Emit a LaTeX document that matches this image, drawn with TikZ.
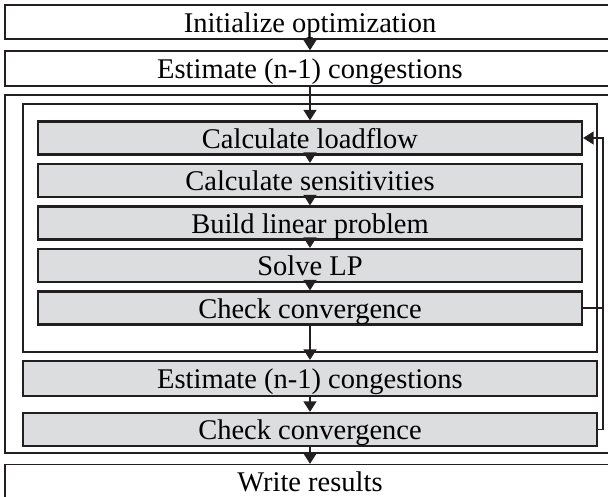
\documentclass[tikz,border=0pt]{standalone}
\usepackage{fontspec}
\setmainfont{Liberation Serif}
\usetikzlibrary{arrows.meta}
\definecolor{ink}{HTML}{231F20}
\definecolor{boxgray}{HTML}{DCDDDE}
\tikzset{
  steptext/.style={font=\fontsize{28.5}{30}\selectfont, text height=20pt, text depth=0pt},
  plainbox/.style={draw=ink, line width=1.4pt, fill=white, inner sep=0pt,
    minimum width=610pt, minimum height=34pt, steptext},
  frame/.style={draw=ink, line width=1.4pt, inner sep=0pt},
  graybox/.style={draw=ink, line width=2.2pt, fill=boxgray, inner sep=0pt,
    minimum height=33pt, steptext},
  flow/.style={draw=ink, line width=1.3pt, -{Triangle[length=10.5pt,width=13pt]}},
  link/.style={draw=ink, line width=1.3pt}
}
\begin{document}
\begin{tikzpicture}[x=1pt,y=-1pt]
\useasboundingbox (0,0) rectangle (608,496);
\clip (0,0) rectangle (608,496);
% outer and inner frames
\node[frame, minimum width=610pt, minimum height=358pt] (outer) at (310,274) {};
\node[frame, minimum width=574pt, minimum height=248pt] (inner) at (310,228) {};
% top and bottom steps
\node[plainbox] (init) at (310,22) {Initialize optimization};
\node[plainbox, minimum height=35pt] (est0) at (310,68.5) {Estimate (n-1) congestions};
\node[plainbox] (write) at (310,481.5) {Write results};
% inner loop
\node[graybox, minimum width=544pt] (load) at (310,138) {Calculate loadflow};
\node[graybox, minimum width=544pt] (sens) at (310,180.5) {Calculate sensitivities};
\node[graybox, minimum width=544pt] (build) at (310,223) {Build linear problem};
\node[graybox, minimum width=544pt] (lp) at (310,265.5) {Solve LP};
\node[graybox, minimum width=544pt] (chk1) at (310,308) {Check convergence};
% outer loop
\node[graybox, minimum width=574pt, minimum height=35pt] (est1) at (310,378.5) {Estimate (n-1) congestions};
\node[graybox, minimum width=574pt] (chk2) at (310,429.5) {Check convergence};
% forward flow
\draw[flow] (init) -- (est0);
\draw[flow] (est0) -- (load);
\draw[flow] (load) -- (sens);
\draw[flow] (sens) -- (build);
\draw[flow] (build) -- (lp);
\draw[flow] (lp) -- (chk1);
\draw[flow] (chk1) -- (est1);
\draw[flow] (est1) -- (chk2);
\draw[flow] (chk2) -- (write);
% return paths
\coordinate (ret) at (603,0);
\draw[flow] (chk1.east) -- (chk1.east -| ret) |- (load.east);
\draw[link] (chk2.east) -- (chk2.east -| ret) -- (chk1.east -| ret);
\end{tikzpicture}
\end{document}
